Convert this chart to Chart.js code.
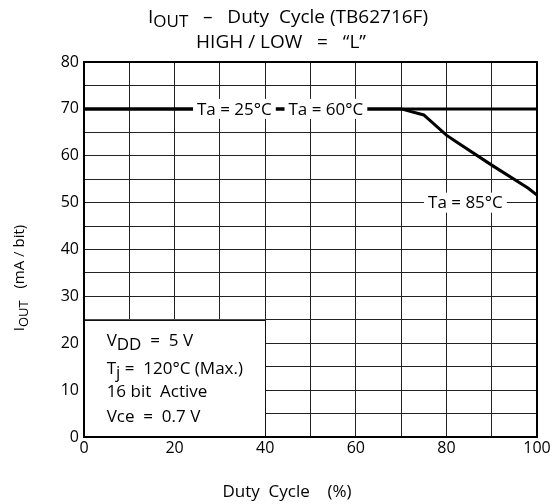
<!DOCTYPE html>
<html>
<head>
<meta charset="utf-8">
<script src="https://cdn.jsdelivr.net/npm/chart.js@4/dist/chart.umd.min.js"></script>
<style>
  html, body { margin: 0; padding: 0; background: #fff; }
</style>
</head>
<body>
<canvas id="c" width="553" height="504"></canvas>
<script>
// valores
const dutyCycle85 = [0, 70, 75, 80, 82, 90, 98, 100];
const iout85 = [70, 70, 68.7, 64.4, 63.1, 58, 53.1, 51.6];
const dutyCycleFlat = [0, 100];
const iout25and60 = [70, 70];
const xTickLabels = [0, 20, 40, 60, 80, 100];
const yTickLabels = [0, 10, 20, 30, 40, 50, 60, 70, 80];

const FONT = '"Open Sans", "Noto Sans", sans-serif';

// rótulos sobre as curvas (posição em unidades do gráfico)
const curveLabels = [
  { text: 'Ta = 25°C', x: 33.2, y: 70 },
  { text: 'Ta = 60°C', x: 53.4, y: 70 },
  { text: 'Ta = 85°C', x: 84.2, y: 50 }
];

// desenha uma linha de texto com trechos subscritos
function drawRuns(ctx, runs, cx, baseY) {
  let total = 0;
  runs.forEach(r => {
    ctx.font = r.size + 'px ' + FONT;
    r.w = ctx.measureText(r.t).width;
    total += r.w;
  });
  let x = cx - total / 2;
  ctx.textAlign = 'left';
  ctx.textBaseline = 'alphabetic';
  runs.forEach(r => {
    ctx.font = r.size + 'px ' + FONT;
    ctx.fillText(r.t, x, baseY + (r.dy || 0));
    x += r.w;
  });
}

function drawRunsLeft(ctx, runs, x, baseY) {
  ctx.textAlign = 'left';
  ctx.textBaseline = 'alphabetic';
  runs.forEach(r => {
    ctx.font = r.size + 'px ' + FONT;
    ctx.fillText(r.t, x, baseY + (r.dy || 0));
    x += ctx.measureText(r.t).width;
  });
}

const decorPlugin = {
  id: 'decor',
  beforeDatasetsDraw(chart) {
    // caixa branca com as condições de teste
    const ctx = chart.ctx;
    const xs = chart.scales.x, ys = chart.scales.y;
    const l = xs.getPixelForValue(0), r = xs.getPixelForValue(40);
    const t = ys.getPixelForValue(25), b = ys.getPixelForValue(0);
    ctx.save();
    ctx.fillStyle = '#fff';
    ctx.fillRect(l, t, r - l, b - t);
    ctx.strokeStyle = '#111';
    ctx.lineWidth = 1;
    ctx.strokeRect(Math.round(l) + 0.5, Math.round(t) + 0.5, Math.round(r - l), Math.round(b - t));
    ctx.fillStyle = '#000';
    const tx = xs.getPixelForValue(5);
    drawRunsLeft(ctx, [{ t: 'V', size: 17 }, { t: 'DD', size: 17, dy: 4 }, { t: '  =  5 V', size: 17 }], tx, ys.getPixelForValue(19.5));
    drawRunsLeft(ctx, [{ t: 'T', size: 17 }, { t: 'j', size: 17, dy: 4 }, { t: ' =  120°C (Max.)', size: 17 }], tx, ys.getPixelForValue(13.5));
    drawRunsLeft(ctx, [{ t: '16 bit  Active', size: 17 }], tx, ys.getPixelForValue(8.5));
    drawRunsLeft(ctx, [{ t: 'Vce  =  0.7 V', size: 17 }], tx, ys.getPixelForValue(3.2));
    ctx.restore();
  },
  afterDatasetsDraw(chart) {
    const ctx = chart.ctx;
    const xs = chart.scales.x, ys = chart.scales.y;
    ctx.save();
    ctx.font = '17px ' + FONT;
    curveLabels.forEach(lb => {
      const cx = xs.getPixelForValue(lb.x), cy = ys.getPixelForValue(lb.y);
      const w = ctx.measureText(lb.text).width + 8;
      ctx.fillStyle = '#fff';
      ctx.fillRect(cx - w / 2, cy - 10, w, 20);
      ctx.fillStyle = '#000';
      ctx.textAlign = 'center';
      ctx.textBaseline = 'middle';
      ctx.fillText(lb.text, cx, cy + 1);
    });
    ctx.restore();
  },
  afterDraw(chart) {
    const ctx = chart.ctx;
    const a = chart.chartArea;
    ctx.save();
    // moldura
    ctx.strokeStyle = '#000';
    ctx.lineWidth = 2;
    ctx.strokeRect(a.left, a.top, a.right - a.left, a.bottom - a.top);
    ctx.fillStyle = '#000';
    // título
    drawRuns(ctx, [
      { t: 'I', size: 19 }, { t: 'OUT', size: 17, dy: 4 },
      { t: '   –   Duty  Cycle (TB62716F)', size: 19 }
    ], 288, 23);
    drawRuns(ctx, [{ t: 'HIGH / LOW   =   “L”', size: 19 }], 281, 48);
    // título do eixo x
    drawRuns(ctx, [{ t: 'Duty  Cycle    (%)', size: 17 }], 287, 497);
    // título do eixo y
    ctx.translate(24, 278);
    ctx.rotate(-Math.PI / 2);
    drawRuns(ctx, [
      { t: 'I', size: 15 }, { t: 'OUT', size: 13, dy: 4 },
      { t: '   (mA / bit)', size: 15 }
    ], 0, 0);
    ctx.restore();
  }
};

const lineStyle = {
  borderColor: '#000',
  borderWidth: 3,
  pointRadius: 0,
  tension: 0,
  fill: false
};

new Chart(document.getElementById('c'), {
  type: 'line',
  data: {
    datasets: [
      Object.assign({
        label: 'Ta = 25°C / 60°C',
        data: dutyCycleFlat.map((x, i) => ({ x: x, y: iout25and60[i] }))
      }, lineStyle),
      Object.assign({
        label: 'Ta = 85°C',
        data: dutyCycle85.map((x, i) => ({ x: x, y: iout85[i] }))
      }, lineStyle)
    ]
  },
  options: {
    responsive: false,
    animation: false,
    layout: { padding: { left: 0, right: 16, top: 62, bottom: 0 } },
    plugins: {
      legend: { display: false },
      title: { display: false },
      tooltip: { enabled: false }
    },
    scales: {
      x: {
        type: 'linear',
        min: 0,
        max: 100,
        ticks: {
          stepSize: 10,
          autoSkip: false,
          maxRotation: 0,
          padding: 2,
          color: '#000',
          font: { size: 16, family: FONT },
          callback: v => xTickLabels.includes(v) ? String(v) : ''
        },
        grid: { color: '#222', lineWidth: 1, drawTicks: false },
        border: { color: '#000', width: 2 },
        afterFit: s => { s.height = 67; }
      },
      y: {
        min: 0,
        max: 80,
        ticks: {
          stepSize: 5,
          autoSkip: false,
          padding: 5,
          color: '#000',
          font: { size: 16, family: FONT },
          callback: v => yTickLabels.includes(v) ? String(v) : ''
        },
        grid: { color: '#222', lineWidth: 1, drawTicks: false },
        border: { color: '#000', width: 2 },
        afterFit: s => { s.width = 84; }
      }
    }
  },
  plugins: [decorPlugin]
});
</script>
</body>
</html>
